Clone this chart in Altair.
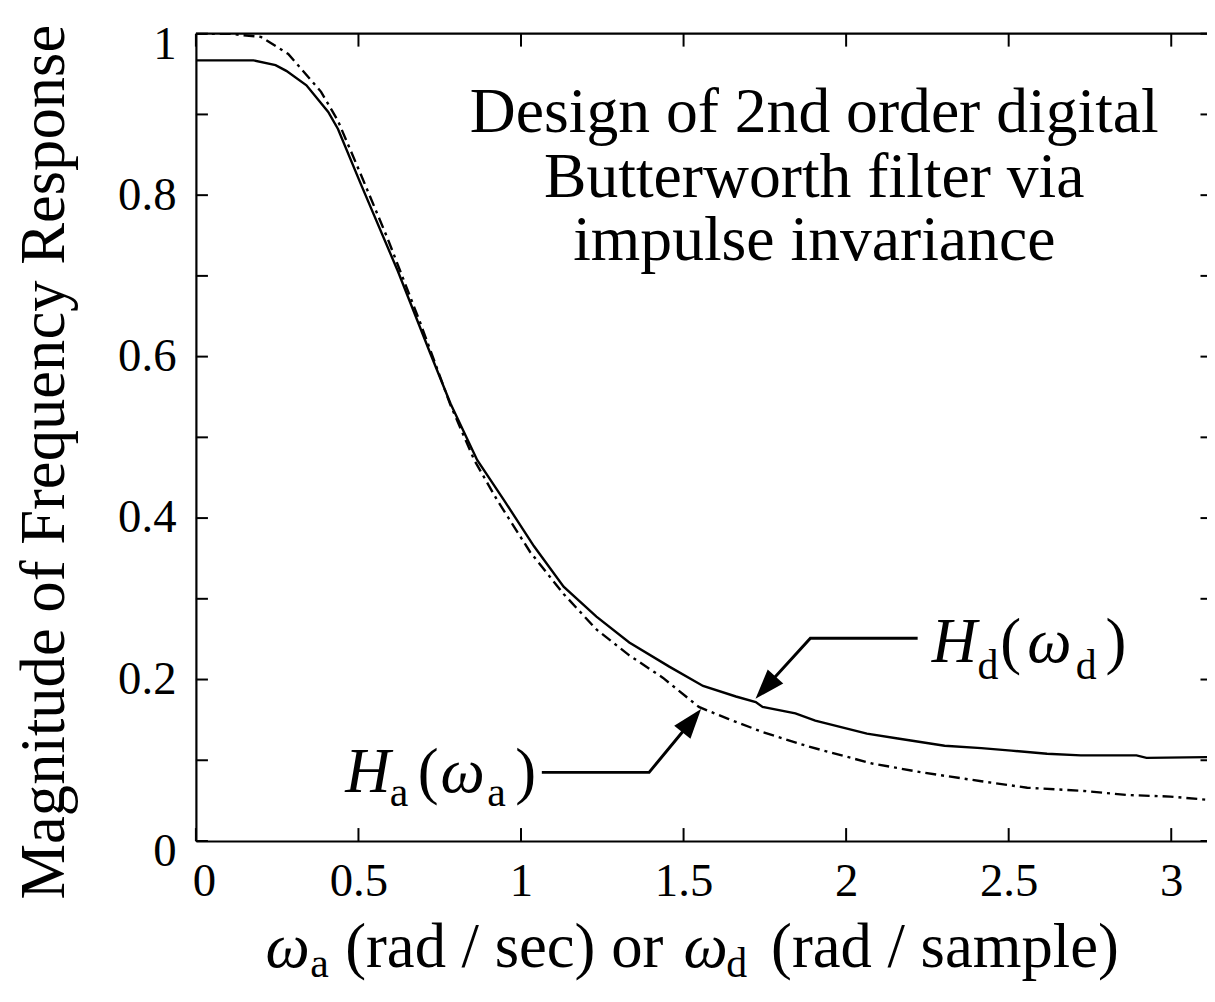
import altair as alt
import pandas as pd

# ---------------- data ----------------
# analog response |Ha(wa)| (dash-dot)
ha_x = [0.0, 0.10, 0.20, 0.284, 0.385, 0.437, 0.508, 0.59, 0.69, 0.783, 0.856, 0.927,
        1.028, 1.131, 1.232, 1.333, 1.437, 1.547, 1.639, 1.743, 1.884, 2.08, 2.232,
        2.416, 2.557, 2.731, 2.862, 2.997, 3.14]
ha_y = [1.0, 1.0, 0.996, 0.975, 0.928, 0.892, 0.825, 0.746, 0.642, 0.540, 0.472, 0.422,
        0.358, 0.306, 0.262, 0.230, 0.202, 0.166, 0.151, 0.135, 0.117, 0.096, 0.085,
        0.074, 0.066, 0.062, 0.057, 0.055, 0.050]

# digital response |Hd(wd)| (solid)
hd_x = [0.0, 0.177, 0.245, 0.278, 0.34, 0.407, 0.437, 0.508, 0.621, 0.722, 0.783, 0.865,
        0.948, 1.04, 1.131, 1.232, 1.333, 1.456, 1.56, 1.661, 1.722, 1.743, 1.844, 1.905,
        2.064, 2.159, 2.303, 2.416, 2.508, 2.618, 2.722, 2.893, 2.924, 3.14]
hd_y = [0.967, 0.967, 0.961, 0.954, 0.936, 0.903, 0.882, 0.813, 0.706, 0.603, 0.542, 0.472,
        0.422, 0.365, 0.315, 0.278, 0.246, 0.216, 0.192, 0.179, 0.172, 0.166, 0.158, 0.149,
        0.133, 0.127, 0.118, 0.115, 0.112, 0.108, 0.106, 0.106, 0.103, 0.104]

x_major = [0, 0.5, 1, 1.5, 2, 2.5, 3]
y_major = [0, 0.2, 0.4, 0.6, 0.8, 1]
y_minor = [0, 0.1, 0.2, 0.3, 0.4, 0.5, 0.6, 0.7, 0.8, 0.9, 1.0]

title_lines = ["Design of 2nd order digital", "Butterworth filter via", "impulse invariance"]
y_title = "Magnitude of Frequency Response"

# ---------------- layout constants ----------------
X_MAX = 3.11
W, H = 1017, 812
FONT = "Liberation Serif"
TICK_X = 0.016     # inward tick length (y units, ~13 px)
TICK_Y = 0.037     # inward tick length (x units, ~12 px)

xs = alt.Scale(domain=[0, X_MAX], nice=False, zero=False)
ys = alt.Scale(domain=[0, 1], nice=False, zero=False)

xaxis = alt.Axis(values=x_major, format="~g", labelFont=FONT, labelFontSize=47,
                 labelColor="black", labelPadding=18, ticks=False, grid=False,
                 domainColor="black", domainWidth=2.2, labelFlush=False,
                 labelOffset=alt.ExprRef(expr="datum.value == 0 ? 8 : 0"))
yaxis = alt.Axis(values=y_major, format="~g", labelFont=FONT, labelFontSize=47,
                 labelColor="black", labelPadding=20, ticks=False, grid=False,
                 domainColor="black", domainWidth=2.2, labelFlush=False,
                 labelOffset=alt.ExprRef(expr="datum.value == 0 ? 11 : (datum.value == 1 ? 11 : 0)"))

X = alt.X("x:Q", scale=xs, axis=xaxis, title=None)
Y = alt.Y("y:Q", scale=ys, axis=yaxis, title=None)

ha_df = pd.DataFrame({"x": ha_x, "y": ha_y})
hd_df = pd.DataFrame({"x": hd_x, "y": hd_y})

ha_line = alt.Chart(ha_df).mark_line(color="black", strokeWidth=2.4, clip=True,
                                     strokeDash=[11, 5, 3, 5]).encode(x=X, y=Y)
hd_line = alt.Chart(hd_df).mark_line(color="black", strokeWidth=2.4, clip=True).encode(x=X, y=Y)

# frame top line
top_rule = alt.Chart(pd.DataFrame({"y": [1.0]})).mark_rule(color="black", strokeWidth=2.2).encode(y=Y)

# inward ticks: short segments from (x, y) to (x2, y2)
n_x = len(x_major)
n_y = len(y_minor)
tick_df = pd.DataFrame({
    "x": x_major + x_major + [0.0] * n_y + [X_MAX - 0.02] * n_y,
    "x2": x_major + x_major + [TICK_Y] * n_y + [X_MAX] * n_y,
    "y": [0.0] * n_x + [1.0] * n_x + y_minor + y_minor,
    "y2": [TICK_X] * n_x + [1 - TICK_X] * n_x + y_minor + y_minor,
})
ticks = alt.Chart(tick_df).mark_rule(color="black", strokeWidth=2).encode(
    x=X, x2=alt.X2("x2:Q"), y=Y, y2=alt.Y2("y2:Q"))

# annotation block
title_df = pd.DataFrame({"x": [1.902] * 3, "y": [0.878, 0.798, 0.720], "text": title_lines})
title_text = alt.Chart(title_df).mark_text(font=FONT, fontSize=64, align="center",
                                           baseline="alphabetic", color="black").encode(
    x=X, y=Y, text="text:N")

# y axis title
ytitle_df = pd.DataFrame({"x": [-0.4648], "y": [0.4692], "text": [y_title]})
ytitle_text = alt.Chart(ytitle_df).mark_text(font=FONT, fontSize=63, angle=270, align="center",
                                             baseline="middle", color="black").encode(
    x=X, y=Y, text="text:N")

# label pieces (italic symbols, upright subscripts / words)
ital_df = pd.DataFrame({
    "x": [0.214, 1.500, 2.263, 2.557, 0.459, 0.752],
    "y": [-0.1564, -0.1564, 0.2217, 0.2217, 0.0603, 0.0603],
    "text": ["ω", "ω", "H", "ω", "H", "ω"],
    "size": [63, 63, 63, 63, 63, 63],
})
reg_df = pd.DataFrame({
    "x": [0.352, 0.459, 1.631, 1.769, 2.404, 2.474, 2.706, 2.798, 0.596, 0.682, 0.896, 0.982],
    "y": [-0.1680, -0.1564, -0.1680, -0.1564, 0.2007, 0.2217, 0.2007, 0.2217,
          0.0431, 0.0603, 0.0431, 0.0603],
    "text": ["a", "(rad / sec) or", "d", "(rad / sample)", "d", "(", "d", ")",
             "a", "(", "a", ")"],
    "size": [42, 63, 42, 63, 42, 63, 42, 63, 42, 63, 42, 63],
})
ital_text = alt.Chart(ital_df).mark_text(font=FONT, fontStyle="italic", align="left",
                                         baseline="alphabetic", color="black").encode(
    x=X, y=Y, text="text:N", size=alt.Size("size:Q", scale=None, legend=None))
reg_text = alt.Chart(reg_df).mark_text(font=FONT, align="left", baseline="alphabetic",
                                       color="black").encode(
    x=X, y=Y, text="text:N", size=alt.Size("size:Q", scale=None, legend=None))

# leader lines with arrowheads
lead_df = pd.DataFrame({
    "x": [2.220, 1.890, 1.752, 1.064, 1.394, 1.525],
    "y": [0.251, 0.251, 0.190, 0.085, 0.085, 0.149],
    "g": ["d", "d", "d", "a", "a", "a"],
    "o": [0, 1, 2, 0, 1, 2],
})
leaders = alt.Chart(lead_df).mark_line(color="black", strokeWidth=3).encode(
    x=X, y=Y, detail="g:N", order="o:Q")

head_df = pd.DataFrame({"x": [1.752, 1.525], "y": [0.190, 0.149], "ang": [222, 39]})
heads = alt.Chart(head_df).mark_point(shape="M0,-1L-0.7,1L0.7,1Z", size=900, filled=True,
                                      color="black", opacity=1).encode(
    x=X, y=Y, angle=alt.Angle("ang:Q", scale=None))

chart = alt.layer(
    hd_line, ha_line, top_rule, ticks,
    title_text, ytitle_text, ital_text, reg_text, leaders, heads
).properties(
    width=W, height=H,
    padding={"left": 189, "top": 23, "right": 0, "bottom": 142},
    autosize=alt.AutoSizeParams(type="none"),
    background="white",
).configure_view(strokeWidth=0)

chart.save("out.html", embed_options={"renderer": "svg", "actions": False})
